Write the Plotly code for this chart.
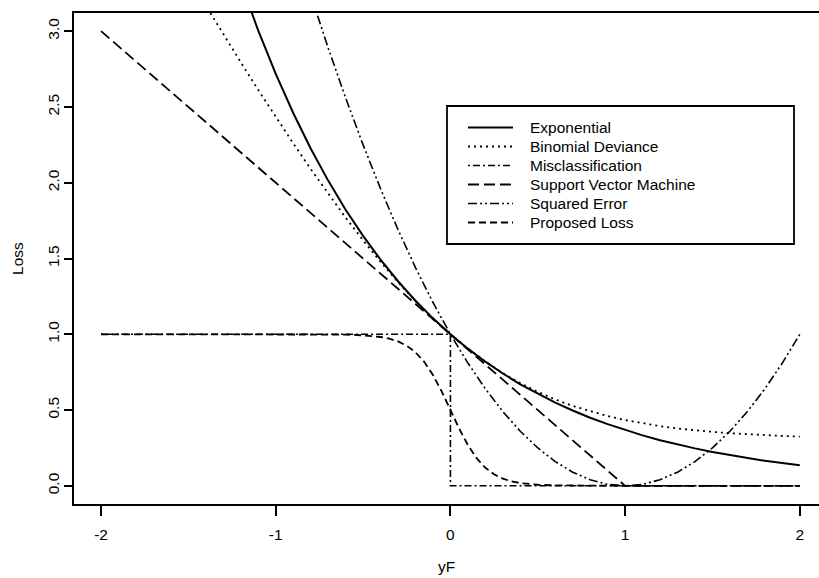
import plotly.graph_objects as go

# ---- data ----
x_exp = [-1.2, -1.1, -1.0, -0.9, -0.8, -0.7, -0.6, -0.5, -0.4, -0.3, -0.2, -0.1, 0.0,
         0.1, 0.2, 0.3, 0.4, 0.5, 0.6, 0.7, 0.8, 0.9, 1.0, 1.1, 1.2, 1.3, 1.4, 1.5,
         1.6, 1.7, 1.8, 1.9, 2.0]
y_exp = [3.320, 3.004, 2.718, 2.460, 2.226, 2.014, 1.822, 1.649, 1.492, 1.350, 1.221, 1.105, 1.000,
         0.905, 0.819, 0.741, 0.670, 0.607, 0.549, 0.497, 0.449, 0.407, 0.368, 0.333, 0.301, 0.273,
         0.247, 0.223, 0.202, 0.183, 0.165, 0.150, 0.135]

x_bin = [-1.5, -1.4, -1.3, -1.2, -1.1, -1.0, -0.9, -0.8, -0.7, -0.6, -0.5, -0.4, -0.3, -0.2, -0.1, 0.0,
         0.1, 0.2, 0.3, 0.4, 0.5, 0.6, 0.7, 0.8, 0.9, 1.0, 1.1, 1.2, 1.3, 1.4, 1.5,
         1.6, 1.7, 1.8, 1.9, 2.0]
y_bin = [3.356, 3.166, 2.979, 2.794, 2.612, 2.434, 2.260, 2.091, 1.927, 1.770, 1.620, 1.478, 1.344,
         1.220, 1.105, 1.000, 0.905, 0.820, 0.744, 0.678, 0.620, 0.570, 0.527, 0.491, 0.460, 0.434,
         0.412, 0.394, 0.378, 0.366, 0.356, 0.347, 0.340, 0.334, 0.329, 0.325]

x_mis = [-2.0, 0.0, 0.0, 2.0]
y_mis = [1.0, 1.0, 0.0, 0.0]

x_svm = [-2.0, 1.0, 2.0]
y_svm = [3.0, 0.0, 0.0]

x_sq = [-0.8, -0.7, -0.6, -0.5, -0.4, -0.3, -0.2, -0.1, 0.0, 0.1, 0.2, 0.3, 0.4, 0.5, 0.6, 0.7,
        0.8, 0.9, 1.0, 1.1, 1.2, 1.3, 1.4, 1.5, 1.6, 1.7, 1.8, 1.9, 2.0]
y_sq = [3.24, 2.89, 2.56, 2.25, 1.96, 1.69, 1.44, 1.21, 1.00, 0.81, 0.64, 0.49, 0.36, 0.25, 0.16,
        0.09, 0.04, 0.01, 0.00, 0.01, 0.04, 0.09, 0.16, 0.25, 0.36, 0.49, 0.64, 0.81, 1.00]

x_prop = [-2.0, -1.0, -0.6, -0.5, -0.45, -0.4, -0.35, -0.3, -0.25, -0.2, -0.15, -0.1, -0.05, 0.0,
          0.05, 0.1, 0.15, 0.2, 0.25, 0.3, 0.35, 0.4, 0.45, 0.5, 0.6, 0.8, 1.0, 2.0]
y_prop = [1.0, 1.0, 0.998, 0.993, 0.989, 0.982, 0.971, 0.953, 0.924, 0.881, 0.818, 0.731, 0.623, 0.500,
          0.378, 0.269, 0.182, 0.119, 0.076, 0.047, 0.029, 0.018, 0.011, 0.007, 0.003, 0.000, 0.0, 0.0]

names = ["Exponential", "Binomial Deviance", "Misclassification",
         "Support Vector Machine", "Squared Error", "Proposed Loss"]
x_ticks = [-2, -1, 0, 1, 2]
y_ticks = [0.0, 0.5, 1.0, 1.5, 2.0, 2.5, 3.0]
y_tick_text = ["0.0", "0.5", "1.0", "1.5", "2.0", "2.5", "3.0"]

series = [(x_exp, y_exp), (x_bin, y_bin), (x_mis, y_mis),
          (x_svm, y_svm), (x_sq, y_sq), (x_prop, y_prop)]
dashes = ["solid", "2px,4px", "2px,3px,7px,3px", "11px,5px",
          "9px,3px,2px,3px,2px,3px", "7px,4px"]
widths = [2.0, 1.8, 1.6, 1.8, 1.6, 1.8]

FONT = "Liberation Sans, Arial, sans-serif"
FS = 15.5

fig = go.Figure()
for (xs, ys), nm, d, w in zip(series, names, dashes, widths):
    fig.add_trace(go.Scatter(x=xs, y=ys, mode="lines", name=nm, showlegend=False,
                             line=dict(color="black", width=w, dash=d)))

L, T, B = 74, 13, 74
W, H = 819, 578
pw, ph = W - L, H - T - B

def px2paper_x(px):
    return (px - L) / pw

def px2paper_y(py):
    return (H - B - py) / ph

# legend drawn as a boxed key (sample lines + text)
shapes = [dict(type="rect", xref="paper", yref="paper",
               x0=px2paper_x(447), x1=px2paper_x(794),
               y0=px2paper_y(244), y1=px2paper_y(106),
               line=dict(color="black", width=1.8), fillcolor="rgba(0,0,0,0)")]
annotations = []
row0, gap = 127.5, 19.0
for i, (nm, d, w) in enumerate(zip(names, dashes, widths)):
    ry = row0 + i * gap
    shapes.append(dict(type="line", xref="paper", yref="paper",
                       x0=px2paper_x(468), x1=px2paper_x(513),
                       y0=px2paper_y(ry), y1=px2paper_y(ry),
                       line=dict(color="black", width=w, dash=d)))
    annotations.append(dict(text=nm, xref="paper", yref="paper",
                            x=px2paper_x(528), y=px2paper_y(ry),
                            xanchor="left", yanchor="middle", showarrow=False,
                            font=dict(family=FONT, size=FS, color="black")))

fig.update_layout(
    width=W, height=H,
    margin=dict(l=L, r=0, t=T, b=B, pad=0),
    paper_bgcolor="white", plot_bgcolor="white",
    font=dict(family=FONT, size=FS, color="black"),
    showlegend=False,
    shapes=shapes,
    annotations=annotations,
    xaxis=dict(range=[-2.155, 2.11], tickmode="array", tickvals=x_ticks,
               ticktext=[str(v) for v in x_ticks],
               showgrid=False, zeroline=False, showline=True, linecolor="black",
               linewidth=1.8, mirror=True, ticks="outside", ticklen=10, tickwidth=1.8,
               tickcolor="black", tickfont=dict(family=FONT, size=FS),
               ticklabelstandoff=5,
               title=dict(text="yF", standoff=20, font=dict(family=FONT, size=FS))),
    yaxis=dict(range=[-0.12, 3.12], tickmode="array", tickvals=y_ticks,
               ticktext=y_tick_text, tickangle=-90,
               showgrid=False, zeroline=False, showline=True, linecolor="black",
               linewidth=1.8, mirror=False, ticks="outside", ticklen=8, tickwidth=1.8,
               tickcolor="black", tickfont=dict(family=FONT, size=FS),
               ticklabelstandoff=-1,
               title=dict(text="Loss", standoff=17, font=dict(family=FONT, size=FS))),
)

fig.write_html("out.html")
